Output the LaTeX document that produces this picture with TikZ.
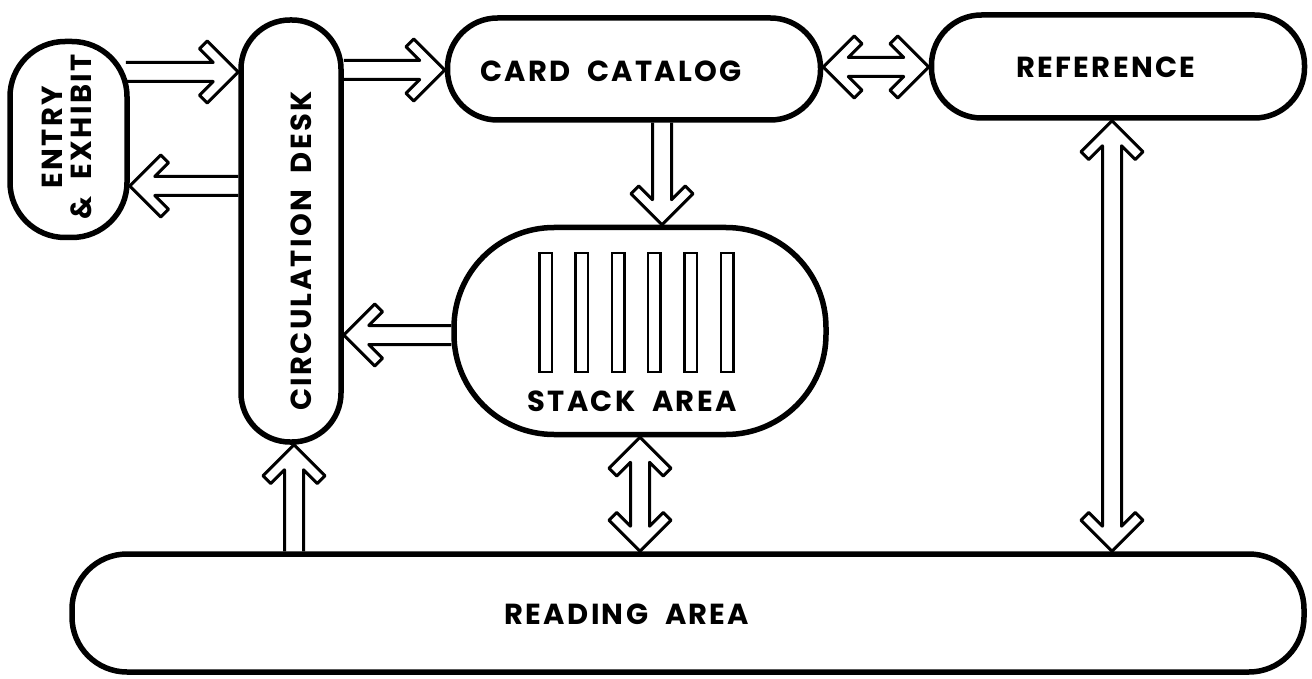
\documentclass[tikz,border=0pt]{standalone}
\usepackage{fontspec}
\newfontfamily\lblfont{Poppins}[LetterSpace=8,WordSpace=2]
\usetikzlibrary{calc}
\tikzset{
  area/.style={draw, line width=5.5pt, inner sep=0pt, fill=white},
  lbl/.style={inner sep=0pt, font=\lblfont\bfseries\fontsize{29}{29}\selectfont, align=center},
  fatline/.style={draw, line width=3pt, line join=round},
  shelf/.style={draw, line width=2.5pt},
}
% #1 start, #2 end, #3 = 1 (single head) or 2 (double head)
\newcommand\fatarrow[3]{%
  \path #1 coordinate (fas);
  \path #2 coordinate (fae);
  \path let \p1=(fas), \p2=(fae) in
    \pgfextra{\pgfmathparse{atan2(\y2-\y1,\x2-\x1)}\xdef\faang{\pgfmathresult}%
              \pgfmathparse{veclen(\x2-\x1,\y2-\y1)}\xdef\falen{\pgfmathresult}};
  \begin{scope}[shift={(fas)}, rotate=\faang, x=1pt, y=1pt]
    \ifnum#3=1
      \draw[fatline] (0,9.5) -- ({\falen-25.06},9.5) -- ({\falen-38.78},23.22)
        -- ({\falen-31},31) -- (\falen,0) -- ({\falen-31},-31)
        -- ({\falen-38.78},-23.22) -- ({\falen-25.06},-9.5) -- (0,-9.5);
    \else
      \draw[fatline] (25.06,9.5) -- ({\falen-25.06},9.5) -- ({\falen-38.78},23.22)
        -- ({\falen-31},31) -- (\falen,0) -- ({\falen-31},-31)
        -- ({\falen-38.78},-23.22) -- ({\falen-25.06},-9.5) -- (25.06,-9.5)
        -- (38.78,-23.22) -- (31,-31) -- (0,0) -- (31,31) -- (38.78,23.22) -- cycle;
    \fi
  \end{scope}
}
\begin{document}
\begin{tikzpicture}[x=1pt,y=-1pt]
  \fill[white] (0,0) rectangle (1312,679);
  \useasboundingbox (0,0) rectangle (1312,679);

  % areas
  \node[area, rounded corners=55pt, minimum width=117pt, minimum height=196pt] (entry) at (68.5,139.5) {};
  \node[area, rounded corners=49pt, minimum width=100pt, minimum height=422pt] (circ) at (291,231) {};
  \node[area, rounded corners=50pt, minimum width=373pt, minimum height=102pt] (card) at (634,69) {};
  \node[area, rounded corners=50pt, minimum width=373pt, minimum height=103pt] (ref) at (1118,66.5) {};
  \node[area, rounded corners=100pt, minimum width=372pt, minimum height=207pt] (stack) at (640,331) {};
  \node[area, rounded corners=55pt, minimum width=1232pt, minimum height=118pt] (reading) at (688,613) {};

  % shelves in the stack area
  \foreach \i in {0,...,5}
    \draw[shelf] ({539.25+36.3*\i},253) rectangle ++(12.5,119);

  % labels
  \node[lbl, rotate=90] (entryT) at (67,137) {ENTRY\\\& EXHIBIT};
  \node[lbl, rotate=90] (circT) at (301,251) {CIRCULATION DESK};
  \node[lbl] (cardT) at (611,71) {CARD CATALOG};
  \node[lbl] (refT) at (1106,67) {REFERENCE};
  \node[lbl] (stackT) at (632,401) {STACK AREA};
  \node[lbl] (readT) at (627,614) {READING AREA};

  % connectors
  \fatarrow{($(entry.east |- 0,72)+(-4,0)$)}{(circ.west |- 0,72)}{1}
  \fatarrow{(circ.west |- 0,186)}{(entry.east |- 0,186)}{1}
  \fatarrow{(circ.east |- 0,70)}{(card.west |- 0,70)}{1}
  \fatarrow{(card.east |- 0,67)}{(ref.west |- 0,67)}{2}
  \fatarrow{(card.south -| 662,0)}{(stack.north -| 662,0)}{1}
  \fatarrow{(stack.west |- 0,335)}{(circ.east |- 0,335)}{1}
  \fatarrow{(reading.north -| 294,0)}{(circ.south -| 294,0)}{1}
  \fatarrow{(stack.south -| 640,0)}{(reading.north -| 640,0)}{2}
  \fatarrow{(ref.south -| 1112,0)}{(reading.north -| 1112,0)}{2}
\end{tikzpicture}
\end{document}
